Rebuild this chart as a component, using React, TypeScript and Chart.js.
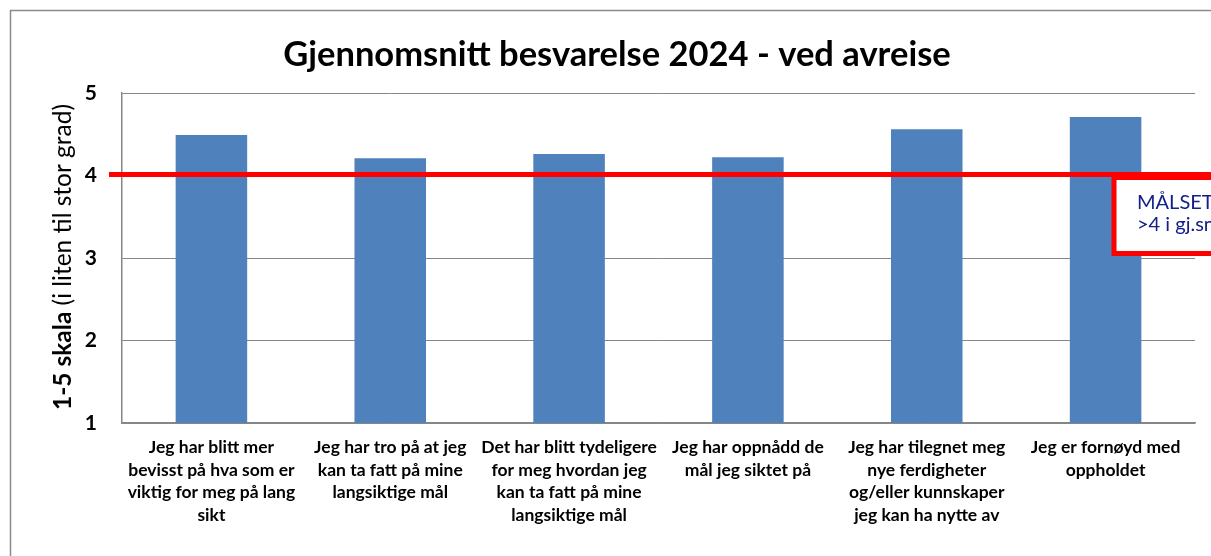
import React, { useEffect, useRef } from "react";
import { Chart, registerables } from "chart.js";

Chart.register(...registerables);

const titleText = "Gjennomsnitt besvarelse 2024 - ved avreise";
const yTitleBold = "1-5 skala";
const yTitleNormal = " (i liten til stor grad)";
const categories: string[][] = [
  ["Jeg har blitt mer", "bevisst på hva som er", "viktig for meg på lang", "sikt"],
  ["Jeg har tro på at jeg", "kan ta fatt på mine", "langsiktige mål"],
  ["Det har blitt tydeligere", "for meg hvordan jeg", "kan ta fatt på mine", "langsiktige mål"],
  ["Jeg har oppnådd de", "mål jeg siktet på"],
  ["Jeg har tilegnet meg", "nye ferdigheter", "og/eller kunnskaper", "jeg kan ha nytte av"],
  ["Jeg er fornøyd med", "oppholdet"],
];
const values: number[] = [4.49, 4.21, 4.26, 4.22, 4.56, 4.71];
const targetValue = 4;
const targetLines: string[] = ["MÅLSETNING", ">4 i gj.snitt"];
const yTicks: number[] = [1, 2, 3, 4, 5];

const FONT = "Lato, 'Open Sans', sans-serif";

const overlayPlugin = {
  id: "overlay",
  beforeDraw(chart: any) {
    const ctx = chart.ctx;
    ctx.save();
    ctx.fillStyle = "#ffffff";
    ctx.fillRect(0, 0, chart.width, chart.height);
    // outer border
    ctx.strokeStyle = "#8a8a8a";
    ctx.lineWidth = 1.5;
    ctx.beginPath();
    ctx.moveTo(chart.width + 5, 10.5);
    ctx.lineTo(10.5, 10.5);
    ctx.lineTo(10.5, chart.height + 5);
    ctx.stroke();
    // title
    ctx.fillStyle = "#000000";
    ctx.font = `bold 34.5px ${FONT}`;
    ctx.textAlign = "center";
    ctx.textBaseline = "middle";
    ctx.fillText(titleText, 617, 55);
    // y title
    ctx.translate(63, 257);
    ctx.rotate(-Math.PI / 2);
    ctx.font = `bold 24.5px ${FONT}`;
    const wb = ctx.measureText(yTitleBold).width;
    ctx.font = `24.5px ${FONT}`;
    const wn = ctx.measureText(yTitleNormal).width;
    const start = -(wb + wn) / 2;
    ctx.textAlign = "left";
    ctx.font = `bold 24.5px ${FONT}`;
    ctx.fillText(yTitleBold, start, 0);
    ctx.font = `24.5px ${FONT}`;
    ctx.fillText(yTitleNormal, start + wb, 0);
    ctx.restore();
  },
  afterDatasetsDraw(chart: any) {
    const ctx = chart.ctx;
    const y = chart.scales.y.getPixelForValue(targetValue);
    const area = chart.chartArea;
    ctx.save();
    ctx.strokeStyle = "#ff0000";
    ctx.lineWidth = 5;
    ctx.beginPath();
    ctx.moveTo(area.left - 13, y - 1);
    ctx.lineTo(chart.width + 5, y - 1);
    ctx.stroke();
    // target box
    const bx = area.right - 81;
    const by = y + 2;
    const bh = 76;
    ctx.fillStyle = "#ffffff";
    ctx.fillRect(bx, by, 200, bh);
    ctx.lineWidth = 5;
    ctx.strokeRect(bx, by, 200, bh);
    ctx.fillStyle = "#14208a";
    ctx.font = `20px ${FONT}`;
    ctx.textAlign = "left";
    ctx.textBaseline = "alphabetic";
    ctx.fillText(targetLines[0], bx + 23, by + 31);
    ctx.fillText(targetLines[1], bx + 23, by + 53);
    ctx.restore();
  },
};

export default function App() {
  const ref = useRef<HTMLCanvasElement>(null);
  useEffect(() => {
    const chart = new Chart(ref.current!, {
      type: "bar",
      data: {
        labels: categories,
        datasets: [
          {
            data: values,
            backgroundColor: "#4f81bd",
            borderWidth: 0,
            barPercentage: 0.4,
            categoryPercentage: 1,
          },
        ],
      },
      options: {
        animation: false,
        responsive: false,
        maintainAspectRatio: false,
        layout: { padding: { left: 0, top: 93, right: 16, bottom: 0 } },
        plugins: { legend: { display: false }, tooltip: { enabled: false }, title: { display: false } },
        scales: {
          x: {
            grid: { display: false, drawTicks: false },
            border: { display: true, color: "#868686", width: 1.5 },
            ticks: {
              autoSkip: false,
              maxRotation: 0,
              minRotation: 0,
              padding: 13,
              color: "#000000",
              font: { family: FONT, size: 17.5, weight: "bold", lineHeight: 1.29 },
            },
            afterFit: (s: any) => {
              s.height = 133;
            },
          },
          y: {
            min: 1,
            max: 5,
            afterBuildTicks: (s: any) => {
              s.ticks = yTicks.map((v) => ({ value: v }));
            },
            grid: { color: "#868686", lineWidth: 1, drawTicks: false },
            border: { display: true, color: "#868686", width: 1.5 },
            ticks: {
              padding: 25,
              color: "#000000",
              font: { family: FONT, size: 21, weight: "bold" },
            },
            afterFit: (s: any) => {
              s.width = 122;
            },
          },
        },
      },
      plugins: [overlayPlugin],
    });
    return () => chart.destroy();
  }, []);
  return (
    <div style={{ position: "absolute", left: 0, top: 0, width: 1211, height: 556 }}>
      <canvas ref={ref} width={1211} height={556} style={{ width: 1211, height: 556 }} />
    </div>
  );
}
